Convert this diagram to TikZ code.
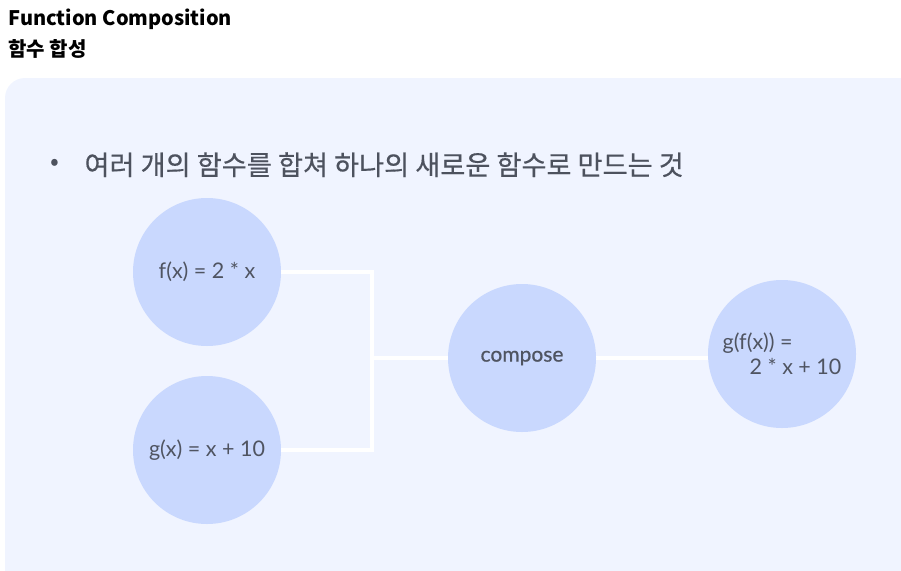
\documentclass[tikz,border=0pt]{standalone}
\usepackage{fontspec}
\setmainfont{Lato}
\newfontfamily\krfont{Noto Sans CJK KR}
\newfontfamily\krmedium[FakeBold=0.4]{Noto Sans CJK KR}
\newfontfamily\composefont[FakeBold=0.6]{Lato}
\usetikzlibrary{backgrounds}
\definecolor{panelbg}{HTML}{F0F4FF}
\definecolor{circlefill}{HTML}{C9D8FE}
\definecolor{labeltext}{HTML}{4F5461}
\definecolor{bullettext}{HTML}{4D525E}
\begin{document}
\begin{tikzpicture}[x=1pt,y=-1pt,
	func circle/.style={circle, fill=circlefill, minimum size=148pt, inner sep=0pt,
		text=labeltext, font=\fontsize{21.5}{25}\selectfont},
	wire/.style={draw=white, line width=4.5pt},
	title text/.style={anchor=base west, font=\krfont\bfseries\fontsize{20}{24}\selectfont}]

	\clip (0,0) rectangle (901,570);

	% heading
	\node[title text] (title) at (5,25) {Function Composition};
	\node[title text] (subtitle) at (5,56) {함수 합성};

	% panel
	\begin{pgfonlayer}{background}
	\fill[panelbg, rounded corners=20pt] (5,78) rectangle (930,600);
	\end{pgfonlayer}
	\node[text=bullettext, font=\krfont\fontsize{26}{30}\selectfont] (bullet) at (55,165) {•};
	\node[anchor=base west, text=bullettext, font=\krmedium\fontsize{27.2}{30}\selectfont] (point) at (81,175)
		{여러 개의 함수를 합쳐 하나의 새로운 함수로 만드는 것};

	% input functions
	\foreach \name/\y/\label in {fx/272/{f(x) = 2 * x}, gx/450/{g(x) = x + 10}}
		\node[func circle] (\name) at (207,\y) {\label};

	% composition and result
	\node[func circle, font=\composefont\fontsize{21}{25}\selectfont] (compose) at (522,358) {compose};
	\node[func circle, align=left] (gfx) at (782,354) {g(f(x)) =\\\hspace*{27pt}2 * x + 10};

	% connections
	\begin{pgfonlayer}{background}
	\coordinate (join) at (372,358);
	\draw[wire] (fx.east) -| (join) |- (gx.east);
	\draw[wire] (join) -- (compose.west);
	\draw[wire] (compose.east) -- (compose.east -| gfx.center);
	\end{pgfonlayer}
\end{tikzpicture}
\end{document}
